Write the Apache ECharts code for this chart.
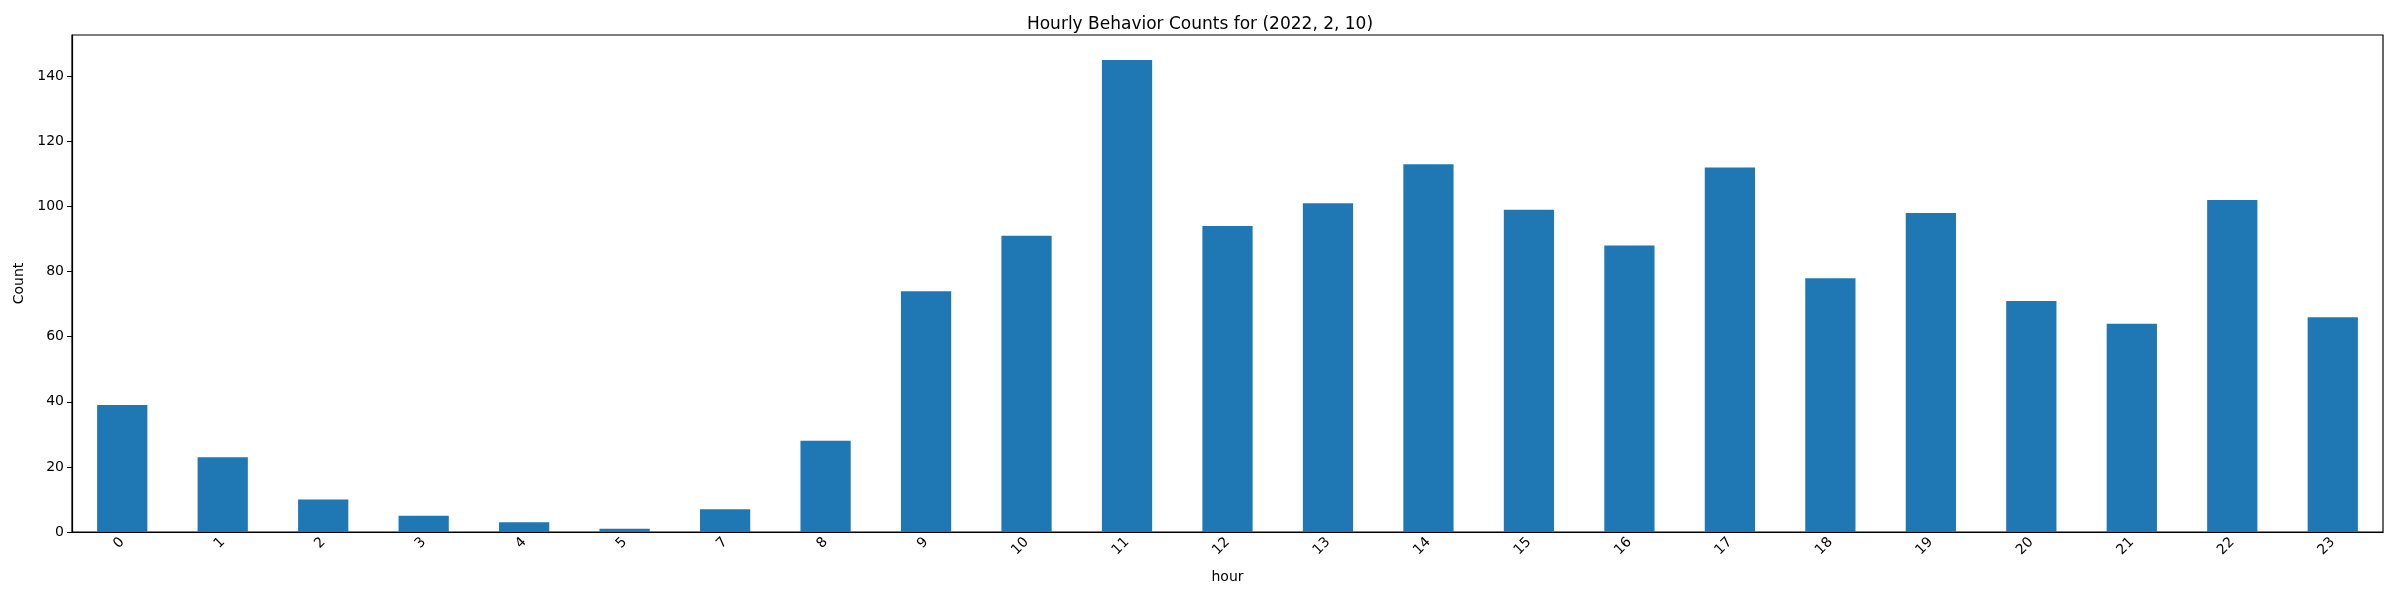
<!DOCTYPE html>
<html>
<head>
<meta charset="UTF-8">
<title>Hourly Behavior Counts</title>
<script src="https://cdn.jsdelivr.net/npm/echarts@6/dist/echarts.min.js"></script>
<style>
  * { margin: 0; padding: 0; }
  body { background: #fff; }
  #container { width: 2400px; height: 600px; }
</style>
</head>
<body>
<div id="container"></div>
<script>
var hours = ['0','1','2','3','4','5','7','8','9','10','11','12','13','14','15','16','17','18','19','20','21','22','23'];
var counts = [39, 23, 10, 5, 3, 1, 7, 28, 74, 91, 145, 94, 101, 113, 99, 88, 112, 78, 98, 71, 64, 102, 66];

var font = 'DejaVu Sans';
var myChart = echarts.init(document.getElementById('container'));
myChart.setOption({
  animation: false,
  textStyle: { fontFamily: font },
  title: {
    text: 'Hourly Behavior Counts for (2022, 2, 10)',
    left: 'center', top: 11,
    textStyle: { fontFamily: font, fontSize: 17, fontWeight: 'normal', color: '#000' }
  },
  grid: { left: 72, right: 17, top: 35, bottom: 68 },
  xAxis: {
    type: 'category',
    data: hours,
    name: 'hour',
    nameLocation: 'middle',
    nameGap: 38,
    nameTextStyle: { fontSize: 14, color: '#000' },
    axisLine: { lineStyle: { color: '#000', width: 1.2 } },
    axisTick: { alignWithLabel: true, length: 5, lineStyle: { color: '#000' } },
    axisLabel: { rotate: 45, fontSize: 14, color: '#000', margin: 8 },
    splitLine: { show: false }
  },
  yAxis: {
    type: 'value',
    min: 0, max: 152.7, interval: 20,
    name: 'Count',
    nameLocation: 'middle',
    nameGap: 46,
    nameTextStyle: { fontSize: 14, color: '#000' },
    axisLine: { show: true, lineStyle: { color: '#000', width: 1.2 } },
    axisTick: { show: true, length: 5, lineStyle: { color: '#000' } },
    axisLabel: { fontSize: 14, color: '#000', showMaxLabel: false },
    splitLine: { show: false }
  },
  series: [{
    type: 'bar',
    data: counts,
    barWidth: '50%',
    itemStyle: { color: '#1f77b4' }
  }],
  graphic: [{
    type: 'rect',
    shape: { x: 72, y: 35, width: 2311, height: 497 },
    style: { fill: 'none', stroke: '#000', lineWidth: 1.2 },
    silent: true
  }]
});
</script>
</body>
</html>
